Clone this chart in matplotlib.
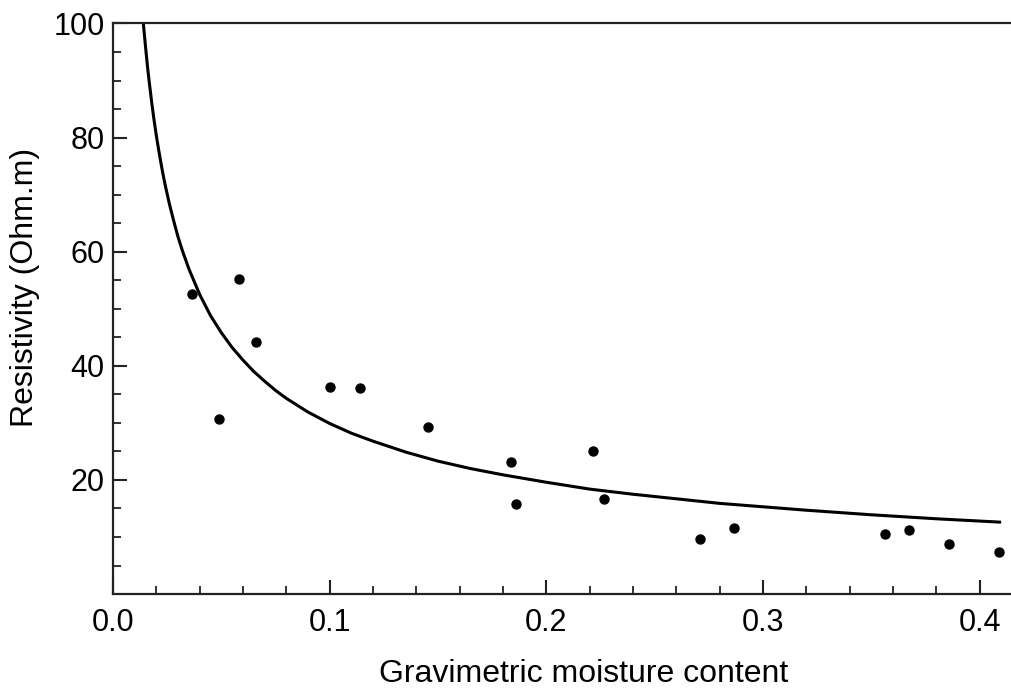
import matplotlib
matplotlib.use("Agg")
import matplotlib.pyplot as plt
from matplotlib.ticker import MultipleLocator

plt.rcParams['font.family'] = ['Liberation Sans', 'DejaVu Sans']

# measured points
moisture = [0.0365, 0.0488, 0.0583, 0.0659, 0.1002, 0.1138, 0.1455, 0.1835,
            0.1861, 0.2217, 0.2265, 0.2708, 0.2867, 0.3566, 0.3674, 0.3860, 0.4092]
resistivity = [52.6, 30.6, 55.3, 44.2, 36.3, 36.2, 29.3, 23.2,
               15.8, 25.0, 16.7, 9.7, 11.5, 10.6, 11.2, 8.8, 7.4]

# fitted curve
fit_x = [0.0140, 0.0145, 0.015, 0.016, 0.017, 0.018, 0.019, 0.020, 0.021, 0.022,
         0.023, 0.024, 0.026, 0.028, 0.030, 0.032, 0.035, 0.040, 0.045, 0.050,
         0.055, 0.060, 0.065, 0.070, 0.075, 0.080, 0.090, 0.100, 0.110, 0.120,
         0.135, 0.150, 0.165, 0.180, 0.200, 0.220, 0.240, 0.260, 0.280, 0.300,
         0.320, 0.350, 0.380, 0.410]
fit_y = [100.0, 97.9, 95.9, 92.1, 88.8, 85.7, 82.9, 80.3, 78.0, 75.8,
         73.7, 71.8, 68.4, 65.4, 62.6, 60.2, 57.0, 52.5, 48.8, 45.8,
         43.2, 41.0, 39.0, 37.3, 35.7, 34.3, 31.9, 29.9, 28.2, 26.8,
         24.9, 23.3, 22.0, 20.9, 19.6, 18.4, 17.5, 16.7, 15.9, 15.3,
         14.7, 13.9, 13.2, 12.6]

fig = plt.figure(figsize=(10.12, 6.9), dpi=100)
ax = fig.add_axes([0.1117, 0.139, 0.8883, 0.827])

ax.plot(fit_x, fit_y, color='black', lw=2.2, solid_capstyle='butt',
        solid_joinstyle='round', zorder=2)
ax.scatter(moisture, resistivity, s=42, color='black', zorder=3)

ax.set_xlim(0, 0.415)
ax.set_ylim(0, 100)
ax.xaxis.set_minor_locator(MultipleLocator(0.02))
ax.yaxis.set_minor_locator(MultipleLocator(5))
ax.set_yticks([20, 40, 60, 80, 100])
ax.set_xticks([0.0, 0.1, 0.2, 0.3, 0.4])
ax.set_xticklabels(['0.0', '0.1', '0.2', '0.3', '0.4'])

ax.spines['right'].set_visible(False)
for s in ['left', 'bottom', 'top']:
    ax.spines[s].set_linewidth(1.6)
    ax.spines[s].set_color('#222222')

ax.tick_params(which='major', direction='in', length=10, width=1.5,
               labelsize=22, color='#222222')
ax.tick_params(which='minor', direction='in', length=6, width=1.3, color='#222222')
ax.tick_params(axis='y', pad=6)
ax.tick_params(axis='x', pad=10)

ax.set_xlabel('Gravimetric moisture content', fontsize=23, labelpad=15)
ax.set_ylabel('Resistivity (Ohm.m)', fontsize=23, labelpad=10)
ax.xaxis.label.set_x(0.523)
ax.yaxis.label.set_y(0.537)

fig.savefig('out.png', dpi=100)
